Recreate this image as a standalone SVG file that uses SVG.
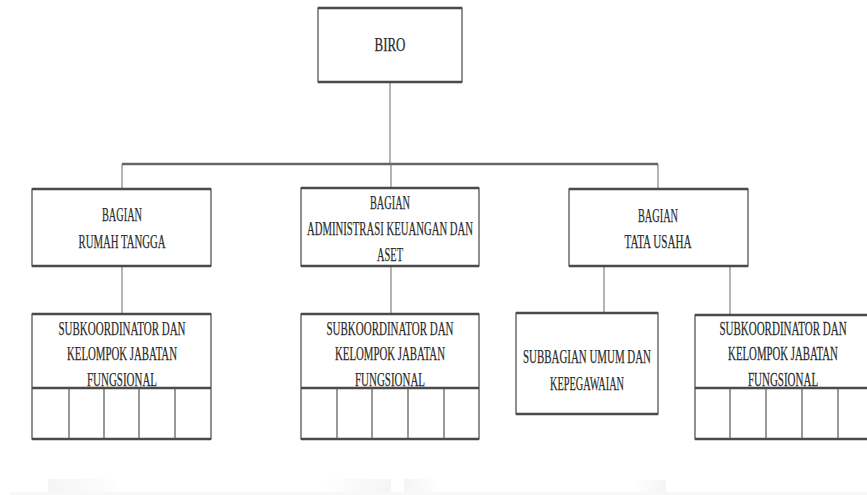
<svg xmlns="http://www.w3.org/2000/svg" width="867" height="495" viewBox="0 0 867 495">
<defs>
<style>
.box{fill:#fff;stroke:#555;stroke-width:1.3}
.h{stroke:#4a4a4a;stroke-width:2.6;fill:none}
.col{stroke:#555;stroke-width:1.2}
.c{stroke:#777;stroke-width:1.1;fill:none}
.ch{stroke:#666;stroke-width:2.6;fill:none}
text{font-family:"Liberation Serif","DejaVu Serif",serif;font-size:19px;fill:#2b2b2b;text-anchor:middle;stroke:#2b2b2b;stroke-width:0.25}
</style>
<linearGradient id="gR" x1="0" x2="1" y1="0" y2="0"><stop offset="0" stop-color="#ececec"/><stop offset="1" stop-color="#fff"/></linearGradient>
<linearGradient id="gL" x1="0" x2="1" y1="0" y2="0"><stop offset="0" stop-color="#fff"/><stop offset="1" stop-color="#ececec"/></linearGradient>
</defs>
<rect width="867" height="495" fill="#fff"/>
<g id="connectors">
<path class="c" d="M390 82V164"/>
<path class="ch" d="M122 164H658"/>
<path class="c" d="M122 164V189M391 164V188M658 164V189"/>
<path class="c" d="M122 266V314M391 266V314M604 266V313M730 266V315"/>
</g>
<g id="biro">
<rect class="box" x="318" y="8" width="144" height="74"/>
<path class="h" d="M318 8H462M318 82H462"/>
<text x="390" y="51" textLength="31" lengthAdjust="spacingAndGlyphs">BIRO</text>
</g>
<g id="bagian-rumah-tangga">
<rect class="box" x="32" y="189" width="179" height="77"/>
<path class="h" d="M32 189H211M32 266H211"/>
<text x="122" y="221" textLength="40" lengthAdjust="spacingAndGlyphs">BAGIAN</text>
<text x="122" y="248" textLength="87" lengthAdjust="spacingAndGlyphs">RUMAH TANGGA</text>
</g>
<g id="bagian-administrasi">
<rect class="box" x="301" y="188" width="178" height="78"/>
<path class="h" d="M301 188H479M301 266H479"/>
<text x="390" y="209" textLength="40" lengthAdjust="spacingAndGlyphs">BAGIAN</text>
<text x="390" y="235" textLength="166" lengthAdjust="spacingAndGlyphs">ADMINISTRASI KEUANGAN DAN</text>
<text x="390" y="261" textLength="26" lengthAdjust="spacingAndGlyphs">ASET</text>
</g>
<g id="bagian-tata-usaha">
<rect class="box" x="569" y="189" width="179" height="77"/>
<path class="h" d="M569 189H748M569 266H748"/>
<text x="658" y="222" textLength="40" lengthAdjust="spacingAndGlyphs">BAGIAN</text>
<text x="658" y="248" textLength="67" lengthAdjust="spacingAndGlyphs">TATA USAHA</text>
</g>
<g id="subkoordinator-1">
<rect class="box" x="32" y="314" width="179" height="125"/>
<path class="h" d="M32 314H211M32 388H211M32 439H211"/>
<path class="col" d="M69 388V439M104 388V439M139 388V439M175 388V439"/>
<text x="122" y="335" textLength="127" lengthAdjust="spacingAndGlyphs">SUBKOORDINATOR DAN</text>
<text x="122" y="360" textLength="110" lengthAdjust="spacingAndGlyphs">KELOMPOK JABATAN</text>
<text x="122" y="386" textLength="70" lengthAdjust="spacingAndGlyphs">FUNGSIONAL</text>
</g>
<g id="subkoordinator-2">
<rect class="box" x="301" y="314" width="178" height="125"/>
<path class="h" d="M301 314H479M301 388H479M301 439H479"/>
<path class="col" d="M337 388V439M372 388V439M408 388V439M444 388V439"/>
<text x="390" y="335" textLength="127" lengthAdjust="spacingAndGlyphs">SUBKOORDINATOR DAN</text>
<text x="390" y="360" textLength="110" lengthAdjust="spacingAndGlyphs">KELOMPOK JABATAN</text>
<text x="390" y="386" textLength="70" lengthAdjust="spacingAndGlyphs">FUNGSIONAL</text>
</g>
<g id="subbagian-umum">
<rect class="box" x="516" y="313" width="142" height="101"/>
<path class="h" d="M516 313H658M516 414H658"/>
<text x="587" y="363" textLength="128" lengthAdjust="spacingAndGlyphs">SUBBAGIAN UMUM DAN</text>
<text x="587" y="390" textLength="74" lengthAdjust="spacingAndGlyphs">KEPEGAWAIAN</text>
</g>
<g id="subkoordinator-3">
<rect class="box" x="695" y="315" width="178" height="124"/>
<path class="h" d="M695 315H873M695 388H873M695 439H873"/>
<path class="col" d="M730 388V439M766 388V439M802 388V439M838 388V439"/>
<g transform="translate(783,0) scale(0.6,1)">
<text x="0" y="335" textLength="212" lengthAdjust="spacingAndGlyphs">SUBKOORDINATOR DAN</text>
<text x="0" y="360" textLength="183" lengthAdjust="spacingAndGlyphs">KELOMPOK JABATAN</text>
<text x="0" y="386" textLength="117" lengthAdjust="spacingAndGlyphs">FUNGSIONAL</text>
</g>
</g>
<g id="bottom-strip" opacity="0.5">
<rect x="48" y="479" width="72" height="16" fill="url(#gR)"/>
<rect x="324" y="479" width="67" height="16" fill="url(#gL)"/>
<rect x="404" y="479" width="34" height="16" fill="url(#gR)"/>
<rect x="636" y="480" width="30" height="15" fill="url(#gL)"/>
<rect x="10" y="492" width="857" height="3" fill="#f2f2f2"/>
</g>
</svg>
